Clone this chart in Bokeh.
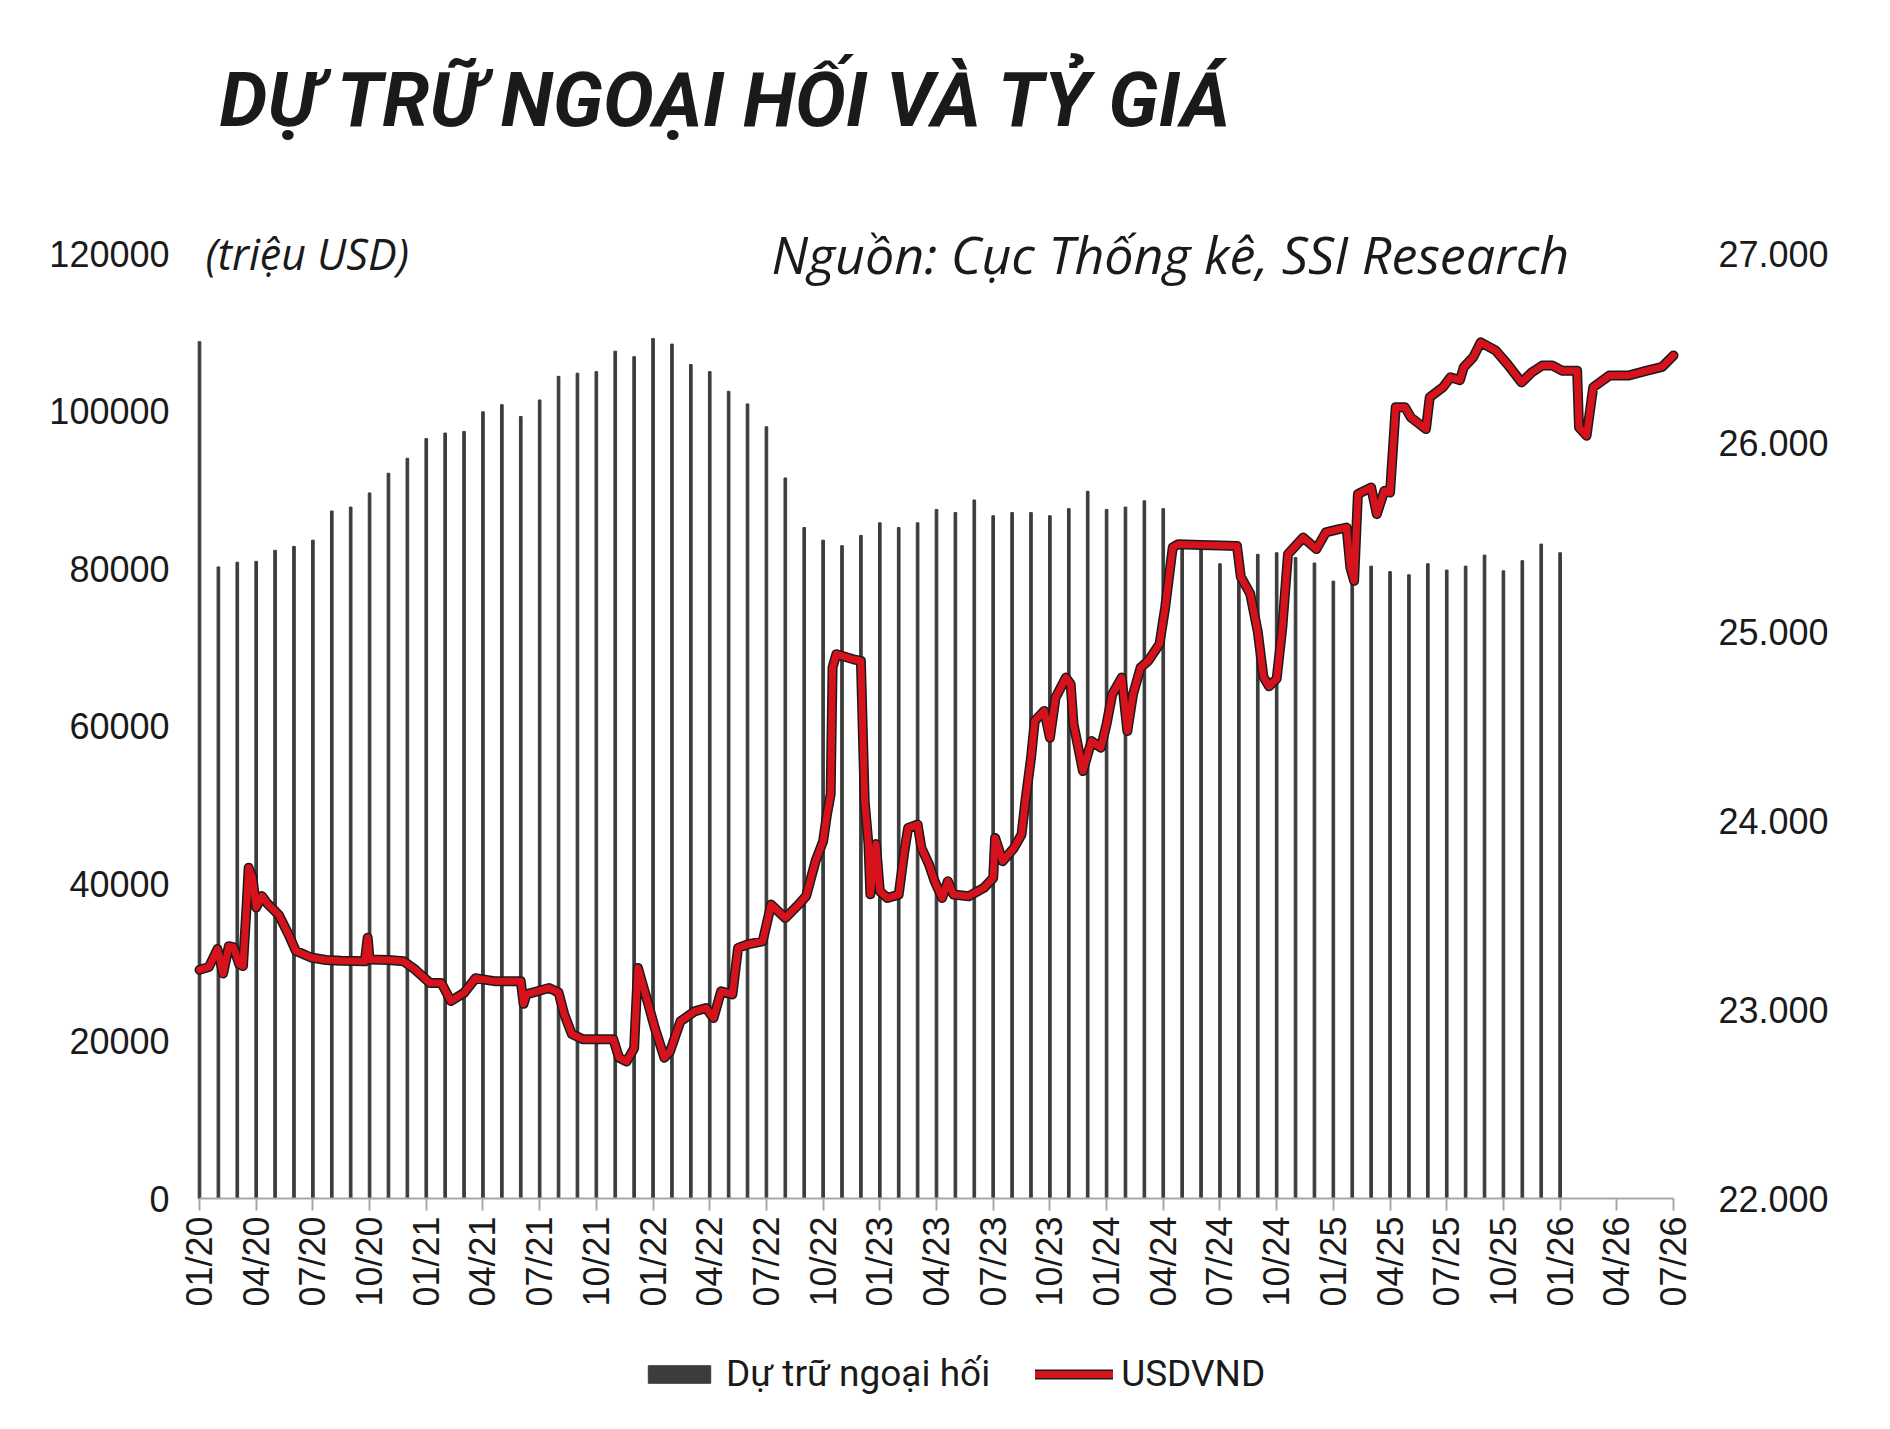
import math
from bokeh.plotting import figure
from bokeh.models import Range1d, LinearAxis, FixedTicker, Label, Legend, LegendItem
from bokeh.embed import file_html
from bokeh.resources import INLINE

# ---------------- data ----------------
title_text = "DỰ TRỮ NGOẠI HỐI VÀ TỶ GIÁ"
unit_text = "(triệu USD)"
source_text = "Nguồn: Cục Thống kê, SSI Research"
series_names = ["Dự trữ ngoại hối", "USDVND"]

x_tick_labels = ["01/20", "04/20", "07/20", "10/20", "01/21", "04/21", "07/21", "10/21",
                 "01/22", "04/22", "07/22", "10/22", "01/23", "04/23", "07/23", "10/23",
                 "01/24", "04/24", "07/24", "10/24", "01/25", "04/25", "07/25", "10/25",
                 "01/26", "04/26", "07/26"]

# monthly FX reserves (million USD), 01/20 ... 01/26
reserves = [108800, 80200, 80800, 80900, 82300, 82800, 83600, 87300, 87800, 89600, 92100, 94000,
            96500, 97200, 97400, 99900, 100800, 99300, 101400, 104400, 104800, 105000, 107600, 106900,
            109200, 108500, 105900, 105000, 102500, 100900, 98000, 91500, 85200, 83600, 82900, 84200,
            85800, 85200, 85800, 87500, 87100, 88700, 86700, 87100, 87100, 86700, 87600, 89800,
            87500, 87800, 88600, 87600, 83000, 82500, 80600, 80800, 81800, 82000, 81400, 80700,
            78400, 80500, 80300, 79600, 79200, 80600, 79800, 80300, 81700, 79700, 81000, 83100,
            82000]

# USDVND: time in months since 01/2020, rate
usd_t = [0.0, 0.5, 0.95, 1.25, 1.55, 1.8, 2.1, 2.3, 2.5, 2.6, 2.8, 3.0, 3.3, 3.6, 4.2, 4.7,
         5.1, 5.9, 6.7, 7.5, 8.75, 8.9, 9.0, 10.0, 10.8, 11.4, 12.2, 12.8, 13.3, 14.0, 14.6, 15.6,
         17.0, 17.15, 17.3, 18.5, 19.0, 19.3, 19.7, 20.3, 21.9, 22.2, 22.6, 23.0, 23.2, 23.5, 23.7,
         24.1, 24.6, 24.9, 25.45, 26.2, 26.8, 27.2, 27.6, 28.2, 28.5, 29.0, 29.8, 30.25, 31.0, 31.7,
         32.1, 32.6, 33.0, 33.2, 33.4, 33.5, 33.7, 34.6, 35.0, 35.2, 35.4, 35.5, 35.8, 36.0, 36.4,
         37.0, 37.3, 37.5, 38.0, 38.2, 38.6, 38.9, 39.3, 39.6, 39.9, 40.7, 41.5, 42.0, 42.1, 42.5,
         43.1, 43.5, 43.7, 44.0, 44.2, 44.7, 45.0, 45.3, 45.85, 46.1, 46.25, 46.75, 47.2, 47.7, 48.0,
         48.3, 48.8, 49.1, 49.4, 49.8, 50.2, 50.8, 51.1, 51.5, 51.8, 53.0, 54.0, 54.9, 55.1, 55.6,
         56.0, 56.3, 56.6, 57.0, 57.3, 57.6, 58.4, 59.1, 59.6, 60.3, 60.7, 60.9, 61.1, 61.3, 62.0,
         62.3, 62.7, 63.0, 63.3, 63.8, 64.1, 64.9, 65.1, 65.8, 66.2, 66.7, 66.9, 67.4, 67.8, 68.6,
         69.2, 69.96, 70.5, 71.05, 71.6, 72.1, 72.9, 73.0, 73.4, 73.75, 74.6, 75.6, 76.6, 77.4, 78.0]
usd_v = [23210, 23225, 23320, 23190, 23335, 23330, 23240, 23230, 23560, 23750, 23700, 23540, 23600, 23560, 23500, 23400,
         23310, 23275, 23262, 23258, 23255, 23380, 23265, 23262, 23255, 23212, 23140, 23140, 23045, 23088, 23165, 23150,
         23150, 23030, 23080, 23114, 23090, 22975, 22870, 22842, 22842, 22745, 22725, 22795, 23220, 23115, 23045,
         22900, 22745, 22778, 22937, 22990, 23008, 22955, 23096, 23080, 23326, 23344, 23361, 23555, 23484, 23555,
         23600, 23785, 23890, 24030, 24140, 24810, 24880, 24853, 24844, 24100, 23875, 23610, 23875, 23626, 23590,
         23608, 23838, 23961, 23979, 23856, 23768, 23679, 23590, 23679, 23608, 23599, 23643, 23696, 23908, 23785,
         23855, 23926, 24100, 24330, 24527, 24580, 24438, 24650, 24756, 24721, 24510, 24262, 24420, 24385, 24510,
         24668, 24756, 24473, 24668, 24809, 24844, 24933, 25127, 25445, 25462, 25458, 25455, 25453, 25290, 25200,
         25000, 24760, 24710, 24750, 25020, 25409, 25497, 25436, 25524, 25542, 25550, 25338, 25268, 25727, 25762,
         25621, 25744, 25735, 26186, 26186, 26133, 26071, 26239, 26292, 26345, 26330, 26398, 26451, 26530, 26486,
         26416, 26318, 26371, 26407, 26407, 26380, 26380, 26080, 26036, 26292, 26354, 26354, 26380, 26400, 26460]

left_ticks = [0, 20000, 40000, 60000, 80000, 100000, 120000]
right_ticks = [22000, 23000, 24000, 25000, 26000, 27000]
right_tick_labels = ["22.000", "23.000", "24.000", "25.000", "26.000", "27.000"]

# ---------------- layout ----------------
W, H = 1890, 1429
BASE_Y = 1198      # canvas y of the value 0 / 22.000
TOP_Y = 253        # canvas y of 120000 / 27.000
X0_PX, X1_PX = 199, 1673      # canvas x of 01/20 and 07/26
FL, FR = 175, 1698            # frame edges (a bit wider so end labels are not cut)

x_lo_v, x_hi_v = 0, 3 * (len(x_tick_labels) - 1)
ppm = (X1_PX - X0_PX) / (x_hi_v - x_lo_v)
x_lo = x_lo_v - (X0_PX - FL) / ppm
x_hi = x_hi_v + (FR - X1_PX) / ppm

span = BASE_Y - TOP_Y
l_lo = left_ticks[0] - (left_ticks[-1] - left_ticks[0]) * (H - BASE_Y) / span
l_hi = left_ticks[0] + (left_ticks[-1] - left_ticks[0]) * BASE_Y / span
r_lo = right_ticks[0] - (right_ticks[-1] - right_ticks[0]) * (H - BASE_Y) / span
r_hi = right_ticks[0] + (right_ticks[-1] - right_ticks[0]) * BASE_Y / span

TXT = "#1a1a1a"
BAR = "#3c3c3c"
RED = "#d6131c"

p = figure(width=W, height=H, output_backend="svg", toolbar_location=None,
           x_range=Range1d(x_lo, x_hi), y_range=Range1d(l_lo, l_hi),
           min_border_left=FL, min_border_right=W - FR, min_border_top=0, min_border_bottom=0)
p.extra_y_ranges = {"usd": Range1d(r_lo, r_hi)}
p.grid.visible = False
p.outline_line_color = None
p.background_fill_color = "white"
p.border_fill_color = "white"

# x axis, drawn at value 0 inside the frame
xt = [3 * i for i in range(len(x_tick_labels))]
p.xaxis.fixed_location = 0
p.xaxis.bounds = (x_lo_v, x_hi_v)
p.xaxis.ticker = FixedTicker(ticks=xt)
p.xaxis.major_label_overrides = {t: l for t, l in zip(xt, x_tick_labels)}
p.xaxis.major_label_orientation = math.pi / 2
p.xaxis.axis_line_color = "#a8a8a8"
p.xaxis.axis_line_width = 2
p.xaxis.major_tick_line_color = "#a8a8a8"
p.xaxis.major_tick_line_width = 2
p.xaxis.major_tick_out = 12
p.xaxis.major_tick_in = 0
p.xaxis.minor_tick_line_color = None
p.xaxis.major_label_text_font = "Liberation Sans"
p.xaxis.major_label_text_font_size = "36px"
p.xaxis.major_label_text_color = TXT
p.xaxis.major_label_standoff = 6

# left axis
p.yaxis.ticker = FixedTicker(ticks=left_ticks)
p.yaxis.major_label_overrides = {t: str(t) for t in left_ticks}
p.yaxis.axis_line_color = None
p.yaxis.major_tick_line_color = None
p.yaxis.minor_tick_line_color = None
p.yaxis.major_tick_out = 0
p.yaxis.major_tick_in = 0
p.yaxis.major_label_standoff = 6
p.yaxis.major_label_text_font = "Liberation Sans"
p.yaxis.major_label_text_font_size = "36px"
p.yaxis.major_label_text_color = TXT

# right axis
ra = LinearAxis(y_range_name="usd", ticker=FixedTicker(ticks=right_ticks),
                major_label_overrides={t: l for t, l in zip(right_ticks, right_tick_labels)})
ra.axis_line_color = None
ra.major_tick_line_color = None
ra.minor_tick_line_color = None
ra.major_tick_out = 0
ra.major_tick_in = 0
ra.major_label_standoff = 20
ra.major_label_text_font = "Liberation Sans"
ra.major_label_text_font_size = "36px"
ra.major_label_text_color = TXT
p.add_layout(ra, "right")

# bars
bar_x = list(range(len(reserves)))
bars = p.vbar(x=bar_x, top=reserves, bottom=0, width=0.14, color=BAR)

# line
l_out = p.line(usd_t, usd_v, y_range_name="usd", line_color="#1a1a1a", line_width=10,
               line_join="round", line_cap="round")
l_red = p.line(usd_t, usd_v, y_range_name="usd", line_color=RED, line_width=7,
               line_join="round", line_cap="round")

# header texts (screen units are measured from the frame's bottom-left corner)
p.add_layout(Label(x=219 - FL, y=H - 99, x_units="screen", y_units="screen", text=title_text,
                   text_font="Roboto", text_font_style="bold italic",
                   text_font_size="76px", text_color=TXT, text_baseline="alphabetic"))
p.add_layout(Label(x=205 - FL, y=H - TOP_Y, x_units="screen", y_units="screen", text=unit_text,
                   text_font="Open Sans", text_font_style="italic",
                   text_font_size="43px", text_color=TXT, text_baseline="middle"))
p.add_layout(Label(x=771 - FL, y=H - TOP_Y, x_units="screen", y_units="screen", text=source_text,
                   text_font="Open Sans", text_font_style="italic",
                   text_font_size="52px", text_color=TXT, text_baseline="middle"))

legend = Legend(items=[LegendItem(label=series_names[0], renderers=[bars]),
                       LegendItem(label=series_names[1], renderers=[l_out, l_red])],
                orientation="horizontal", location=(640 - FL, 34),
                glyph_width=78, glyph_height=22, label_standoff=8, spacing=45,
                padding=0, margin=0, border_line_color=None, background_fill_alpha=0,
                label_text_font="Roboto", label_text_font_size="37px",
                label_text_color=TXT)
p.add_layout(legend, "center")

open("out.html", "w").write(file_html(p, INLINE))
